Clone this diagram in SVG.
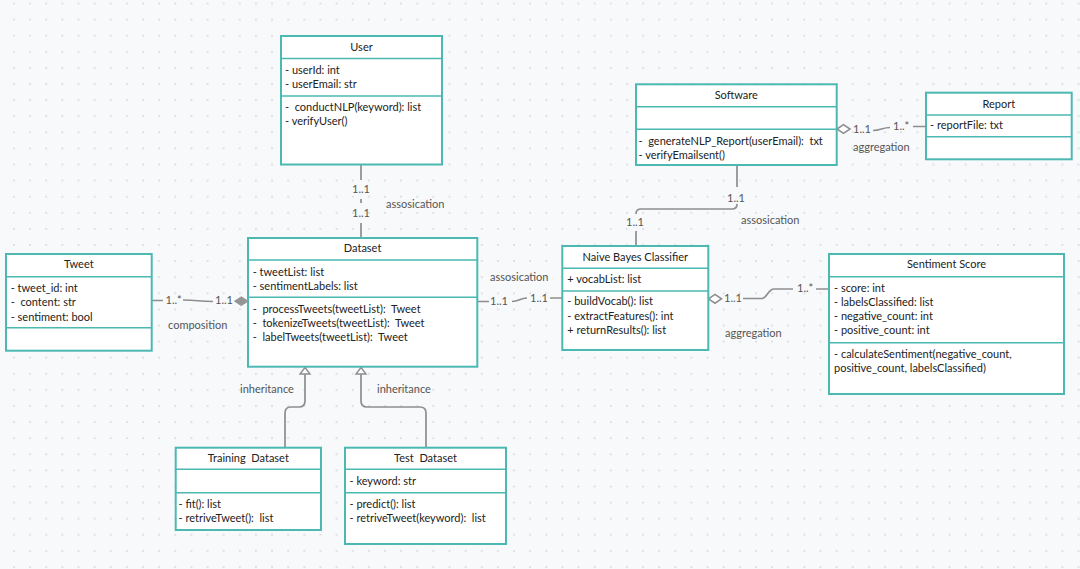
<svg xmlns="http://www.w3.org/2000/svg" width="1080" height="569" viewBox="0 0 1080 569">
  <defs>
    <pattern id="dots" x="13" y="2.5" width="16.13" height="16.1" patternUnits="userSpaceOnUse">
      <rect x="0" y="0" width="2" height="2" fill="#dde0e5"/>
    </pattern>
    <style>
      .box { fill: #ffffff; stroke: #4bb8b2; stroke-width: 2; }
      .div { stroke: #4bb8b2; stroke-width: 1.6; fill: none; }
      .title { font-family: Lato, "Liberation Sans", sans-serif; font-size: 11px; fill: #222; text-anchor: middle; white-space: pre; }
      .txt { font-family: Lato, "Liberation Sans", sans-serif; font-size: 11px; fill: #222; white-space: pre; }
      .lbl { font-family: Lato, "Liberation Sans", sans-serif; font-size: 11px; fill: #555; white-space: pre; }
      .mid { text-anchor: middle; }
      .edge { stroke: #8e8e8e; stroke-width: 1.7; fill: none; }
      .tri { fill: #ffffff; stroke: #8e8e8e; stroke-width: 1.4; }
      .dia-open { fill: #ffffff; stroke: #8e8e8e; stroke-width: 1.6; }
      .dia-fill { fill: #959595; stroke: #959595; stroke-width: 1; }
    </style>
  </defs>

  <rect width="1080" height="569" fill="#f8f9fb"/>
  <rect width="1080" height="569" fill="url(#dots)"/>

  <!-- connectors -->
  <g id="connectors">
    <!-- User - Dataset association -->
    <path class="edge" d="M361,165 V180 M361,199 V203 M361,223 V238"/>
    <text class="lbl mid" x="361" y="193.3">1..1</text>
    <text class="lbl mid" x="361" y="217.3">1..1</text>
    <text class="lbl" x="386" y="208.3">assosication</text>

    <!-- Tweet - Dataset composition -->
    <path class="edge" d="M152,300.5 H163 M183,300 C198,300 198,301.5 213,301.5"/>
    <polygon class="dia-fill" points="234.5,301.2 241.3,296.8 248,301.2 241.3,305.6"/>
    <text class="lbl" x="165.5" y="304">1..*</text>
    <text class="lbl" x="215" y="304.3">1..1</text>
    <text class="lbl" x="168" y="329">composition</text>

    <!-- Dataset - Naive Bayes association -->
    <path class="edge" d="M478,301.5 H489 M512,301.5 C519,301.5 520,298 527,298 M550,298 H562"/>
    <text class="lbl" x="490" y="304.5">1..1</text>
    <text class="lbl" x="530" y="301.8">1..1</text>
    <text class="lbl" x="490" y="280.7">assosication</text>

    <!-- Software - Naive Bayes association -->
    <path class="edge" d="M737,165 V187 M737,204 Q737,209 732,209 H641 Q636,209 636,214 M636,231 V246"/>
    <text class="lbl mid" x="736" y="201.7">1..1</text>
    <text class="lbl mid" x="635" y="225.7">1..1</text>
    <text class="lbl" x="741" y="224">assosication</text>

    <!-- Naive Bayes - Sentiment Score aggregation -->
    <polygon class="dia-open" points="708.5,298.8 715,294.4 721.5,298.8 715,303.2"/>
    <path class="edge" d="M743,298.5 H762 C767,298.5 768,289 774,289 H793 M816,289 H829"/>
    <text class="lbl" x="724" y="302">1..1</text>
    <text class="lbl" x="797" y="292">1..*</text>
    <text class="lbl" x="725" y="337.3">aggregation</text>

    <!-- Software - Report aggregation -->
    <polygon class="dia-open" points="837,129 843.5,124.6 850,129 843.5,133.4"/>
    <path class="edge" d="M873,130.5 C880,130.5 883,127.5 890,127.5 M913,126.5 H926"/>
    <text class="lbl" x="853" y="133">1..1</text>
    <text class="lbl" x="893" y="129.5">1..*</text>
    <text class="lbl" x="853" y="151">aggregation</text>

    <!-- Training Dataset - Dataset inheritance -->
    <path class="edge" d="M285,447.7 V413 Q285,407 291,407 H299 Q305,407 305,401 V374"/>
    <polygon class="tri" points="305,367.5 310,374 300,374"/>
    <text class="lbl" x="240" y="393">inheritance</text>

    <!-- Test Dataset - Dataset inheritance -->
    <path class="edge" d="M426,447.7 V413 Q426,407 420,407 H367 Q361,407 361,401 V374"/>
    <polygon class="tri" points="361,367.5 366,374 356,374"/>
    <text class="lbl" x="377" y="393">inheritance</text>
  </g>

  <!-- User -->
  <g id="user">
    <rect class="box" x="281" y="36" width="161" height="128.5"/>
    <path class="div" d="M281,58.5 H442 M281,96 H442"/>
    <text class="title" x="361.5" y="51">User</text>
    <text class="txt" x="285" y="74.3">- userId: int</text>
    <text class="txt" x="285" y="87.7">- userEmail: str</text>
    <text class="txt" x="285" y="111">-  conductNLP(keyword): list</text>
    <text class="txt" x="285" y="125">- verifyUser()</text>
  </g>

  <!-- Software -->
  <g id="software">
    <rect class="box" x="636" y="84.3" width="200.7" height="80.7"/>
    <path class="div" d="M636,106.7 H836.7 M636,129.3 H836.7"/>
    <text class="title" x="736.3" y="99.3">Software</text>
    <text class="txt" x="638.5" y="145">-  generateNLP_Report(userEmail):  txt</text>
    <text class="txt" x="638.5" y="158.5">- verifyEmailsent()</text>
  </g>

  <!-- Report -->
  <g id="report">
    <rect class="box" x="926" y="92.7" width="145.7" height="66.6"/>
    <path class="div" d="M926,115 H1071.7 M926,136.7 H1071.7"/>
    <text class="title" x="998.8" y="107.7">Report</text>
    <text class="txt" x="930" y="129.3">- reportFile: txt</text>
  </g>

  <!-- Tweet -->
  <g id="tweet">
    <rect class="box" x="6" y="254" width="145.7" height="96.7"/>
    <path class="div" d="M6,276.7 H151.7 M6,327.7 H151.7"/>
    <text class="title" x="78.8" y="268.3">Tweet</text>
    <text class="txt" x="10.7" y="291.7">- tweet_id: int</text>
    <text class="txt" x="10.7" y="306">-  content: str</text>
    <text class="txt" x="10.7" y="320.7">- sentiment: bool</text>
  </g>

  <!-- Dataset -->
  <g id="dataset">
    <rect class="box" x="248" y="238" width="229.3" height="128.7"/>
    <path class="div" d="M248,260 H477.3 M248,297.3 H477.3"/>
    <text class="title" x="362.6" y="252.3">Dataset</text>
    <text class="txt" x="252.7" y="275.7">- tweetList: list</text>
    <text class="txt" x="252.7" y="290">- sentimentLabels: list</text>
    <text class="txt" x="252.7" y="312.7">-  processTweets(tweetList):  Tweet</text>
    <text class="txt" x="252.7" y="326.7">-  tokenizeTweets(tweetList):  Tweet</text>
    <text class="txt" x="252.7" y="341">-  labelTweets(tweetList):  Tweet</text>
  </g>

  <!-- Naive Bayes Classifier -->
  <g id="naive-bayes">
    <rect class="box" x="562.3" y="246" width="146" height="104"/>
    <path class="div" d="M562.3,268.3 H708.3 M562.3,291 H708.3"/>
    <text class="title" x="635.3" y="260.7">Naive Bayes Classifier</text>
    <text class="txt" x="567.3" y="283.3">+ vocabList: list</text>
    <text class="txt" x="567.3" y="305">- buildVocab(): list</text>
    <text class="txt" x="567.3" y="320">- extractFeatures(): int</text>
    <text class="txt" x="567.3" y="334.3">+ returnResults(): list</text>
  </g>

  <!-- Sentiment Score -->
  <g id="sentiment-score">
    <rect class="box" x="829" y="254" width="235" height="140"/>
    <path class="div" d="M829,276.7 H1064 M829,342.7 H1064"/>
    <text class="title" x="946.5" y="268.3">Sentiment Score</text>
    <text class="txt" x="834" y="291.7">- score: int</text>
    <text class="txt" x="834" y="305.7">- labelsClassified: list</text>
    <text class="txt" x="834" y="320">- negative_count: int</text>
    <text class="txt" x="834" y="334.3">- positive_count: int</text>
    <text class="txt" x="834" y="358.3">- calculateSentiment(negative_count,</text>
    <text class="txt" x="834" y="371.7">positive_count, labelsClassified)</text>
  </g>

  <!-- Training Dataset -->
  <g id="training-dataset">
    <rect class="box" x="175.7" y="447.7" width="145.3" height="82.3"/>
    <path class="div" d="M175.7,469.3 H321 M175.7,492.7 H321"/>
    <text class="title" x="248.3" y="462.3">Training  Dataset</text>
    <text class="txt" x="178.5" y="507.7">- fit(): list</text>
    <text class="txt" x="178.5" y="522.3">- retriveTweet():  list</text>
  </g>

  <!-- Test Dataset -->
  <g id="test-dataset">
    <rect class="box" x="345" y="447.7" width="161" height="96.3"/>
    <path class="div" d="M345,469.3 H506 M345,492.7 H506"/>
    <text class="title" x="425.5" y="462.3">Test  Dataset</text>
    <text class="txt" x="349.5" y="485">- keyword: str</text>
    <text class="txt" x="349.5" y="507.7">- predict(): list</text>
    <text class="txt" x="349.5" y="522.3">- retriveTweet(keyword):  list</text>
  </g>
</svg>
